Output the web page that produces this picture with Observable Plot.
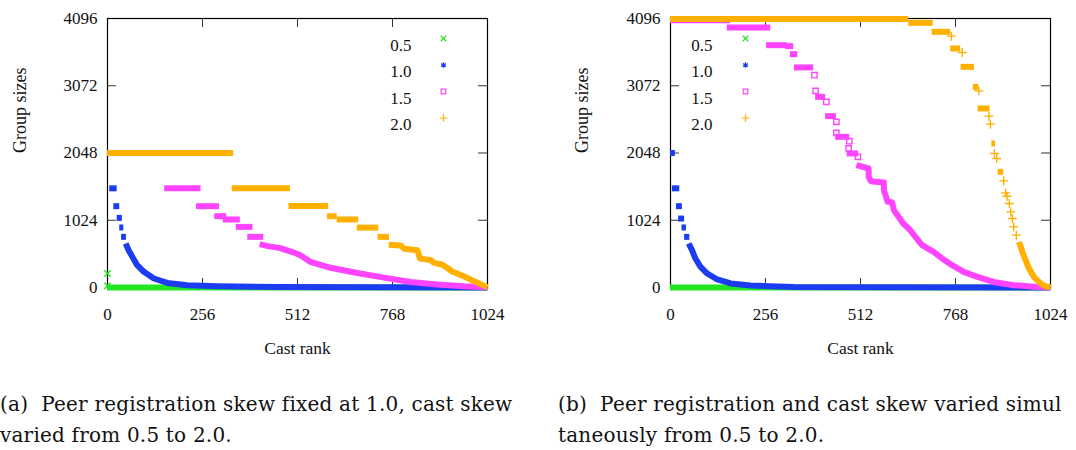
<!DOCTYPE html>
<html><head><meta charset="utf-8">
<script src="https://cdn.jsdelivr.net/npm/d3@7"></script>
<script src="https://cdn.jsdelivr.net/npm/@observablehq/plot@0.6"></script>
<style>
body{margin:0;background:#fff;}
#wrap{position:relative;width:1076px;height:450px;overflow:hidden;background:#fff;}
.panel{position:absolute;top:0;}
.panel svg text{font-family:"Liberation Serif",serif;}
.cap{position:absolute;font-family:"DejaVu Serif",serif;font-size:20px;letter-spacing:0.2px;line-height:31px;color:#111;white-space:nowrap;}
</style></head><body>
<div id="wrap">
  <div class="panel" id="pa" style="left:0px"></div>
  <div class="panel" id="pb" style="left:538px"></div>
  <div class="cap" style="left:0px;top:389px">(a)&nbsp; Peer registration skew fixed at 1.0, cast skew<br>varied from 0.5 to 2.0.</div>
  <div class="cap" style="left:558px;top:389px">(b)&nbsp; Peer registration and cast skew varied simul<br>taneously from 0.5 to 2.0.</div>
</div>
<script>
// axis ticks
const ranks = [0, 256, 512, 768, 1024];
const sizes = [0, 1024, 2048, 3072, 4096];
const skews = ["0.5", "1.0", "1.5", "2.0"];
const colors = ["#22e622", "#1c3cf2", "#ff44ff", "#ffb000"];
const symbols = ["times", "asterisk", "square", "plus"];

// ---------- panel (a): [rankStart, rankEnd, size] plateaus, [rank, size] tails / points
const a05Steps = [[0, 1024, 0]];
const a05Tail = [];
const a05Points = [[0, 213], [0, 24]];

const a10Steps = [[6, 26, 1510], [17, 33, 1238], [26, 40, 1060], [33, 44, 914], [38, 51, 771]];
const a10Tail = [[49, 670], [57, 568], [67, 466], [80, 340], [98, 238], [125, 137], [161, 70], [215, 35], [296, 20], [458, 9], [1024, 0]];
const a10Points = [];

const a15Steps = [[0, 165, 2048], [154, 252, 1510], [240, 302, 1238], [289, 321, 1086], [312, 358, 1036], [347, 392, 923], [378, 421, 771]];
const a15Tail = [[410, 660], [432, 630], [466, 600], [498, 540], [520, 490], [547, 390], [601, 300], [673, 220], [745, 150], [817, 85], [888, 45], [960, 18], [1024, 3]];
const a15Points = [];

const a20Steps = [[0, 340, 2048], [336, 493, 1510], [489, 596, 1240], [593, 619, 1086], [619, 677, 1036], [673, 731, 912], [729, 760, 771]];
const a20Tail = [[758, 650], [790, 640], [800, 590], [835, 568], [842, 440], [870, 420], [880, 375], [901, 350], [915, 300], [930, 240], [960, 170], [990, 90], [1010, 40], [1024, 5]];
const a20Points = [];

// ---------- panel (b)
const b05Steps = [[0, 1024, 0]];
const b05Tail = [];
const b05Points = [];

const b10Steps = [[0, 13, 2048], [5, 25, 1510], [16, 32, 1238], [22, 38, 1050], [31, 43, 914], [38, 52, 771]];
const b10Tail = [[49, 670], [58, 568], [67, 442], [81, 314], [99, 213], [126, 122], [162, 61], [216, 30], [332, 9], [600, 3], [1024, 0]];
const b10Points = [];

const b15Steps = [[0, 162, 4070], [153, 270, 3960], [259, 315, 3690], [310, 332, 3675], [323, 343, 3553], [334, 386, 3351], [391, 418, 2903], [418, 447, 2609], [445, 483, 2294], [476, 507, 2041]];
const b15Tail = [[501, 1863], [534, 1812], [534, 1684], [540, 1619], [575, 1600], [575, 1482], [585, 1304], [597, 1300], [602, 1177], [615, 1075], [627, 975], [642, 899], [660, 771], [678, 644], [709, 542], [732, 442], [759, 340], [790, 238], [827, 162], [871, 85], [925, 35], [988, 9], [1024, 3]];
const b15Points = [[388, 3233], [391, 2994], [420, 2827], [447, 2522], [447, 2355], [482, 2228], [480, 2117], [505, 1989]];

const b20Steps = [[0, 642, 4090], [642, 708, 4030], [705, 755, 3893], [755, 782, 3640], [783, 819, 3360], [816, 831, 3055], [829, 861, 2726], [866, 876, 2193], [883, 898, 1761]];
const b20Tail = [[939, 694], [945, 600], [948, 542], [957, 416], [966, 289], [979, 162], [997, 61], [1010, 20], [1024, 0]];
const b20Points = [[757, 3827], [786, 3579], [831, 2994], [858, 2609], [862, 2487], [873, 2041], [879, 1965], [898, 1624], [903, 1441], [907, 1390], [913, 1279], [917, 1151], [921, 1050], [925, 923], [932, 797]];

const panelA = [
  {steps: a05Steps, tail: a05Tail, points: a05Points},
  {steps: a10Steps, tail: a10Tail, points: a10Points},
  {steps: a15Steps, tail: a15Tail, points: a15Points},
  {steps: a20Steps, tail: a20Tail, points: a20Points}
];
const panelB = [
  {steps: b05Steps, tail: b05Tail, points: b05Points},
  {steps: b10Steps, tail: b10Tail, points: b10Points},
  {steps: b15Steps, tail: b15Tail, points: b15Points},
  {steps: b20Steps, tail: b20Tail, points: b20Points}
];

function makePanel(series, opt) {
  const tickX = 24, tickY = 137; // inward tick length in data units (~9px)
  const innerR = ranks.slice(1, -1), innerS = sizes.slice(1, -1);
  const marks = [
    Plot.frame({stroke: "#000", strokeWidth: 1.2}),
    Plot.ruleX(innerR, {y1: 0, y2: tickY, stroke: "#333"}),
    Plot.ruleX(innerR, {y1: 4096 - tickY, y2: 4096, stroke: "#333"}),
    Plot.ruleY(innerS, {x1: 0, x2: tickX, stroke: "#333"}),
    Plot.ruleY(innerS, {x1: 1024 - tickX, x2: 1024, stroke: "#333"})
  ];
  series.forEach((s, i) => {
    marks.push(Plot.ruleY(s.steps, {x1: d => d[0], x2: d => d[1], y: d => d[2], stroke: colors[i], strokeWidth: 6}));
    if (s.tail.length) marks.push(Plot.line(s.tail, {x: d => d[0], y: d => d[1], stroke: colors[i], strokeWidth: 6, strokeLinejoin: "round", strokeLinecap: "butt"}));
    if (s.points.length) marks.push(Plot.dot(s.points, {x: d => d[0], y: d => d[1], symbol: symbols[i], stroke: colors[i], fill: "none", r: 3, strokeWidth: 1.4}));
  });
  skews.forEach((k, i) => {
    marks.push(Plot.text([k], {frameAnchor: opt.anchor, dx: opt.labelDx, dy: 20 + 26.5 * i, textAnchor: "end", fontSize: 17, fill: "#111"}));
    marks.push(Plot.dot([k], {frameAnchor: opt.anchor, dx: opt.markDx, dy: 20 + 26.5 * i, symbol: symbols[i], stroke: colors[i], fill: "none", r: 2.6, strokeWidth: 1.2}));
  });
  marks.push(Plot.text(["Cast rank"], {frameAnchor: "bottom", dy: 66, fontSize: 17.5, fill: "#111"}));
  marks.push(Plot.text(["Group sizes"], {frameAnchor: "left", dx: opt.titleDx, rotate: -90, fontSize: 18, fill: "#111"}));
  return Plot.plot({
    width: 538, height: 375,
    marginLeft: opt.ml, marginRight: opt.mr, marginTop: 18, marginBottom: 88,
    x: {domain: [0, 1024], ticks: ranks, tickFormat: d3.format("d"), tickSize: 0, tickPadding: 20, label: null},
    y: {domain: [0, 4096], ticks: sizes, tickFormat: d3.format("d"), tickSize: 0, tickPadding: 10, label: null},
    style: {fontFamily: "'Liberation Serif', serif", fontSize: "17px", color: "#111", background: "transparent", overflow: "visible"},
    marks
  });
}

document.getElementById("pa").appendChild(makePanel(panelA, {ml: 107, mr: 51, anchor: "top-right", labelDx: -76, markDx: -44, titleDx: -87}));
document.getElementById("pb").appendChild(makePanel(panelB, {ml: 132, mr: 26, anchor: "top-left", labelDx: 42, markDx: 75, titleDx: -88}));
</script>
</body></html>
